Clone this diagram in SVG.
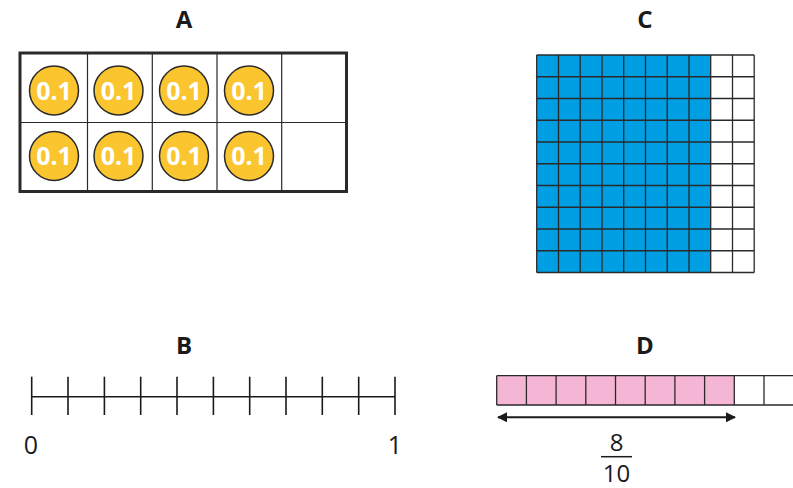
<svg xmlns="http://www.w3.org/2000/svg" width="793" height="488" viewBox="0 0 793 488">
<style>
.title{font-family:"Open Sans","Liberation Sans",sans-serif;font-weight:bold;font-size:24px;fill:#1a1a1a;text-anchor:middle}
.num{font-family:"Open Sans","Liberation Sans",sans-serif;font-size:25px;fill:#1a1a1a;text-anchor:middle}
.frac{font-family:"Open Sans","Liberation Sans",sans-serif;font-size:24px;fill:#1a1a1a;text-anchor:middle}
.coin{fill:#FBC530;stroke:#2a2a2a;stroke-width:1.5}
.ct{font-family:"Open Sans","Liberation Sans",sans-serif;font-weight:bold;font-size:25px;fill:#fff;text-anchor:middle}
.thin{stroke:#2a2a2a;stroke-width:1.2;fill:none}
.blue{fill:#009FE3}
.pink{fill:#F5B5D4}
.gl{stroke:#2a2a2a;stroke-width:1.3}
</style>
<defs>
<marker id="ah" viewBox="0 0 10 10" refX="9" refY="5" markerWidth="5" markerHeight="5" orient="auto-start-reverse">
<path d="M0,0L10,5L0,10z" fill="#1a1a1a"/>
</marker>
</defs>

<g id="A">
<text class="title" x="184" y="28">A</text>
<rect x="20" y="53" width="326.5" height="138.5" fill="#fff" stroke="#2a2a2a" stroke-width="3"/>
<g class="thin">
<line x1="87.5" y1="53" x2="87.5" y2="191.5"/>
<line x1="152.3" y1="53" x2="152.3" y2="191.5"/>
<line x1="217" y1="53" x2="217" y2="191.5"/>
<line x1="281.7" y1="53" x2="281.7" y2="191.5"/>
<line x1="20" y1="122.5" x2="346.5" y2="122.5"/>
</g>
<g>
<circle class="coin" cx="54" cy="90.5" r="24.5"/><text class="ct" x="54" y="99.5">0.1</text>
<circle class="coin" cx="118.5" cy="90.5" r="24.5"/><text class="ct" x="118.5" y="99.5">0.1</text>
<circle class="coin" cx="184" cy="90.5" r="24.5"/><text class="ct" x="184" y="99.5">0.1</text>
<circle class="coin" cx="249" cy="90.5" r="24.5"/><text class="ct" x="249" y="99.5">0.1</text>
<circle class="coin" cx="54" cy="156" r="24.5"/><text class="ct" x="54" y="165">0.1</text>
<circle class="coin" cx="118.5" cy="156" r="24.5"/><text class="ct" x="118.5" y="165">0.1</text>
<circle class="coin" cx="184" cy="156" r="24.5"/><text class="ct" x="184" y="165">0.1</text>
<circle class="coin" cx="249" cy="156" r="24.5"/><text class="ct" x="249" y="165">0.1</text>
</g>
</g>

<g id="C">
<text class="title" x="645" y="28">C</text>
<rect x="536.7" y="55" width="174" height="217.5" class="blue"/>
<rect x="710.7" y="55" width="43.5" height="217.5" fill="#fff"/>
<g class="gl">
<line x1="536.7" y1="55" x2="536.7" y2="272.5"/>
<line x1="558.5" y1="55" x2="558.5" y2="272.5"/>
<line x1="580.2" y1="55" x2="580.2" y2="272.5"/>
<line x1="602" y1="55" x2="602" y2="272.5"/>
<line x1="623.7" y1="55" x2="623.7" y2="272.5"/>
<line x1="645.5" y1="55" x2="645.5" y2="272.5"/>
<line x1="667.2" y1="55" x2="667.2" y2="272.5"/>
<line x1="689" y1="55" x2="689" y2="272.5"/>
<line x1="710.7" y1="55" x2="710.7" y2="272.5"/>
<line x1="732.5" y1="55" x2="732.5" y2="272.5"/>
<line x1="754.2" y1="55" x2="754.2" y2="272.5"/>
<line x1="536.7" y1="55" x2="754.2" y2="55"/>
<line x1="536.7" y1="76.75" x2="754.2" y2="76.75"/>
<line x1="536.7" y1="98.5" x2="754.2" y2="98.5"/>
<line x1="536.7" y1="120.25" x2="754.2" y2="120.25"/>
<line x1="536.7" y1="142" x2="754.2" y2="142"/>
<line x1="536.7" y1="163.75" x2="754.2" y2="163.75"/>
<line x1="536.7" y1="185.5" x2="754.2" y2="185.5"/>
<line x1="536.7" y1="207.25" x2="754.2" y2="207.25"/>
<line x1="536.7" y1="229" x2="754.2" y2="229"/>
<line x1="536.7" y1="250.75" x2="754.2" y2="250.75"/>
<line x1="536.7" y1="272.5" x2="754.2" y2="272.5"/>
</g>
</g>

<g id="B">
<text class="title" x="184" y="354">B</text>
<g stroke="#1a1a1a" stroke-width="1.6">
<line x1="31.7" y1="396.7" x2="395" y2="396.7"/>
<line x1="31.7" y1="376.7" x2="31.7" y2="415"/>
<line x1="68" y1="376.7" x2="68" y2="415"/>
<line x1="104.4" y1="376.7" x2="104.4" y2="415"/>
<line x1="140.7" y1="376.7" x2="140.7" y2="415"/>
<line x1="177" y1="376.7" x2="177" y2="415"/>
<line x1="213.4" y1="376.7" x2="213.4" y2="415"/>
<line x1="249.7" y1="376.7" x2="249.7" y2="415"/>
<line x1="286" y1="376.7" x2="286" y2="415"/>
<line x1="322.3" y1="376.7" x2="322.3" y2="415"/>
<line x1="358.7" y1="376.7" x2="358.7" y2="415"/>
<line x1="395" y1="376.7" x2="395" y2="415"/>
</g>
<text class="num" x="31" y="454">0</text>
<text class="num" x="395" y="454">1</text>
</g>

<g id="D">
<text class="title" x="645" y="354">D</text>
<rect x="496.7" y="375.7" width="237.6" height="29.3" class="pink"/>
<g class="gl">
<line x1="496.7" y1="375.7" x2="793" y2="375.7"/>
<line x1="496.7" y1="405" x2="793" y2="405"/>
<line x1="496.7" y1="375.7" x2="496.7" y2="405"/>
<line x1="526.4" y1="375.7" x2="526.4" y2="405"/>
<line x1="556.1" y1="375.7" x2="556.1" y2="405"/>
<line x1="585.8" y1="375.7" x2="585.8" y2="405"/>
<line x1="615.5" y1="375.7" x2="615.5" y2="405"/>
<line x1="645.2" y1="375.7" x2="645.2" y2="405"/>
<line x1="674.9" y1="375.7" x2="674.9" y2="405"/>
<line x1="704.6" y1="375.7" x2="704.6" y2="405"/>
<line x1="734.3" y1="375.7" x2="734.3" y2="405"/>
<line x1="764" y1="375.7" x2="764" y2="405"/>
</g>
<line x1="498" y1="417.3" x2="735" y2="417.3" stroke="#1a1a1a" stroke-width="2" marker-start="url(#ah)" marker-end="url(#ah)"/>
<text class="frac" x="616.5" y="451">8</text>
<line x1="601" y1="456.7" x2="632" y2="456.7" stroke="#1a1a1a" stroke-width="1.5"/>
<text class="frac" x="616.5" y="481.5">10</text>
</g>
</svg>
